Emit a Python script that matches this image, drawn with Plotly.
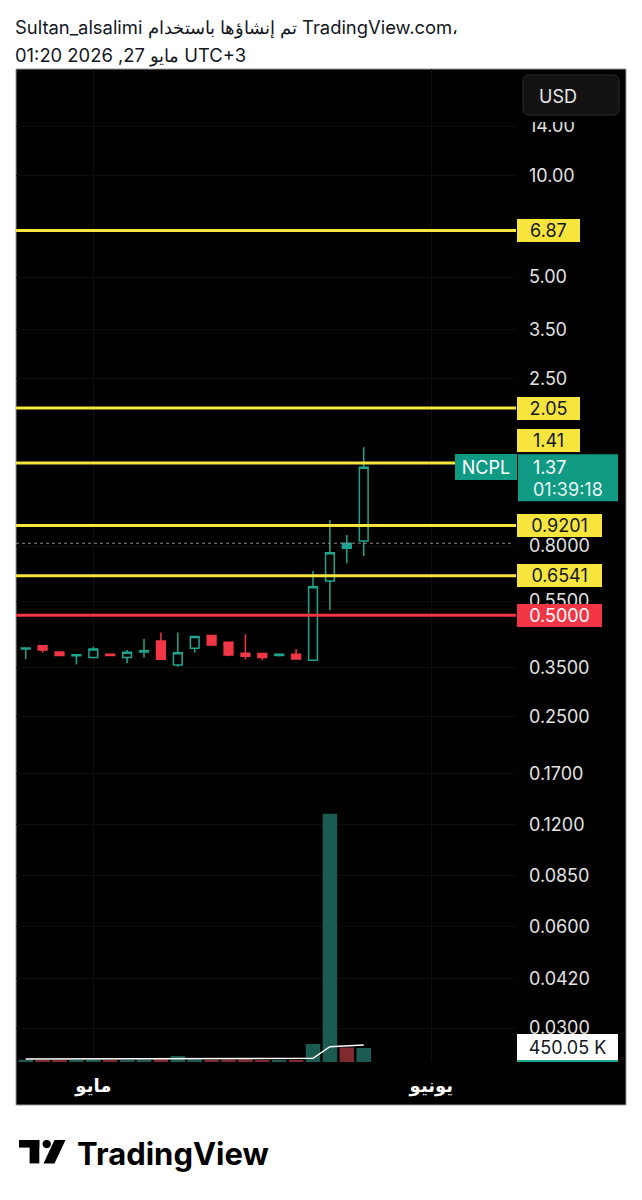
import math
import numpy as np
import plotly.graph_objects as go

# ---------------- data ----------------
dates = ["2026-04-27", "2026-04-28", "2026-04-29", "2026-04-30", "2026-05-01",
         "2026-05-04", "2026-05-05", "2026-05-06", "2026-05-07", "2026-05-08",
         "2026-05-11", "2026-05-12", "2026-05-13", "2026-05-14", "2026-05-15",
         "2026-05-18", "2026-05-19", "2026-05-20", "2026-05-21", "2026-05-22",
         "2026-05-26"]
market_holidays = ["2026-05-25"]
opens = [0.397, 0.406, 0.389, 0.379, 0.375, 0.383, 0.375, 0.389, 0.419, 0.356, 0.399,
         0.435, 0.416, 0.386, 0.385, 0.380, 0.383, 0.368, 0.631, 0.816, 0.829]
highs = [0.400, 0.408, 0.389, 0.383, 0.403, 0.385, 0.394, 0.425, 0.444, 0.444, 0.432,
         0.437, 0.418, 0.439, 0.386, 0.385, 0.397, 0.675, 0.956, 0.863, 1.569]
lows = [0.370, 0.387, 0.380, 0.357, 0.375, 0.378, 0.360, 0.375, 0.370, 0.352, 0.387,
        0.405, 0.378, 0.370, 0.368, 0.377, 0.371, 0.368, 0.518, 0.712, 0.748]
closes = [0.400, 0.394, 0.380, 0.382, 0.397, 0.380, 0.388, 0.392, 0.370, 0.387, 0.432,
          0.408, 0.381, 0.378, 0.375, 0.383, 0.371, 0.607, 0.765, 0.788, 1.370]
volumes_k = [70, 60, 55, 65, 80, 50, 60, 75, 95, 190, 85, 70, 80, 90, 60, 45, 65,
             580, 7970, 465, 450.05]
volume_ma_k = [98, 98, 97, 97, 98, 97, 97, 98, 98, 100, 100, 99, 99, 99, 98, 97, 97,
               120, 491, 514, 546]

yellow_levels = [6.87, 2.05, 1.41, 0.9201, 0.6541]
yellow_texts = ["6.87", "2.05", "1.41", "0.9201", "0.6541"]
red_levels = [0.5]
red_texts = ["0.5000"]
prev_close_level = 0.816

price_ticks = [14, 10, 5, 3.5, 2.5, 0.8, 0.55, 0.35, 0.25, 0.17, 0.12, 0.085, 0.06, 0.042, 0.03]
price_tick_text = ["14.00", "10.00", "5.00", "3.50", "2.50", "0.8000", "0.5500", "0.3500",
                   "0.2500", "0.1700", "0.1200", "0.0850", "0.0600", "0.0420", "0.0300"]
month_starts = ["2026-05-01", "2026-06-01"]
month_text = ["مايو", "يونيو"]

symbol = "NCPL"
last_price_text = "1.37"
countdown_text = "01:39:18"
last_volume_text = "450.05 K"
currency = "USD"
header_line1 = "Sultan_alsalimi تم إنشاؤها باستخدام TradingView.com،"
header_line2 = "01:20 2026 ,27 مايو UTC+3"
brand = "TradingView"

# ---------------- geometry / style ----------------
W, H = 642, 1200
PL, PR, PT, PB = 16, 516, 69, 1062
Y_LO, Y_HI = -1.62308, 1.31479
X_RANGE = [-0.574, 29.01]
VOL_MAX = 31875

GREEN = "#1fa58e"
RED = "#f23645"
YELLOW = "#f7e43c"
TEAL_BOX = "#0f9a83"
VOL_GREEN = "#1c5b51"
VOL_RED = "#7e2a2e"
FONT = "Inter"


def px_x(px):
    return (px - PL) / (PR - PL)


def px_y(py):
    return (PB - py) / (PB - PT)


def ypaper(v):
    return (math.log10(v) - Y_LO) / (Y_HI - Y_LO)


def py_of(v):
    return PB - ypaper(v) * (PB - PT)


x_pos = [int(np.busday_count(dates[0], d, holidays=market_holidays)) for d in dates]
month_pos = [int(np.busday_count(dates[0], m, holidays=market_holidays)) for m in month_starts]

prev = [opens[0]] + closes[:-1]
up_prev = [c >= p for c, p in zip(closes, prev)]
up_open = [c >= o for c, o in zip(closes, opens)]

fig = go.Figure()

# volume
vol_colors = [VOL_GREEN if u else VOL_RED for u in up_open]
fig.add_trace(go.Bar(x=x_pos, y=volumes_k, marker=dict(color=vol_colors, line=dict(width=0)),
                     width=0.86, yaxis="y2", hoverinfo="skip"))
fig.add_trace(go.Scatter(x=x_pos, y=volume_ma_k, mode="lines", yaxis="y2",
                         line=dict(color="#ffffff", width=1.5), hoverinfo="skip"))

groups = [
    (lambda i: up_open[i] and up_prev[i], GREEN, "#000000"),
    (lambda i: up_open[i] and not up_prev[i], RED, "#000000"),
    (lambda i: (not up_open[i]) and (not up_prev[i]), RED, RED),
    (lambda i: (not up_open[i]) and up_prev[i], GREEN, GREEN),
]
for cond, lc, fc in groups:
    idx = [i for i in range(len(dates)) if cond(i)]
    if not idx:
        continue
    style = dict(line=dict(color=lc, width=1.5), fillcolor=fc)
    fig.add_trace(go.Candlestick(
        x=[x_pos[i] for i in idx], open=[opens[i] for i in idx], high=[highs[i] for i in idx],
        low=[lows[i] for i in idx], close=[closes[i] for i in idx],
        increasing=style, decreasing=style, whiskerwidth=0, hoverinfo="skip"))

shapes = []
annotations = []

# chart black panel
shapes.append(dict(type="rect", xref="paper", yref="paper", x0=px_x(16), x1=px_x(626),
                   y0=px_y(1105), y1=px_y(69), fillcolor="#000000",
                   line=dict(color="#9a9a9a", width=1), layer="below"))

# previous close dotted line
shapes.append(dict(type="line", xref="paper", yref="paper", x0=0, x1=px_x(512),
                   y0=ypaper(prev_close_level), y1=ypaper(prev_close_level),
                   line=dict(color="#8a8a8a", width=1, dash="dot")))


def label_width(t):
    return sum(11.1 if ch.isdigit() else 5.6 for ch in t) + 24


for v, t in zip(yellow_levels, yellow_texts):
    shapes.append(dict(type="line", xref="paper", yref="paper", x0=0, x1=1,
                       y0=ypaper(v), y1=ypaper(v), line=dict(color=YELLOW, width=3)))
    annotations.append(dict(text=t, xref="paper", yref="paper", x=px_x(517), y=ypaper(v),
                            xanchor="left", yanchor="middle", showarrow=False,
                            width=label_width(t), height=23, bgcolor=YELLOW, borderwidth=0,
                            borderpad=0, yshift=22 if t == "1.41" else 0,
                            font=dict(family=FONT, size=18, color="#131722")))
for v, t in zip(red_levels, red_texts):
    shapes.append(dict(type="line", xref="paper", yref="paper", x0=0, x1=1,
                       y0=ypaper(v), y1=ypaper(v), line=dict(color=RED, width=3)))
    annotations.append(dict(text=t, xref="paper", yref="paper", x=px_x(517), y=ypaper(v),
                            xanchor="left", yanchor="middle", showarrow=False,
                            width=label_width(t), height=23, bgcolor=RED, borderwidth=0,
                            borderpad=0, font=dict(family=FONT, size=18, color="#ffffff")))

# last price labels
cy = py_of(closes[-1])
annotations.append(dict(text=symbol, xref="paper", yref="paper", x=px_x(455), y=px_y(cy),
                        xanchor="left", yanchor="middle", showarrow=False, width=62, height=26,
                        bgcolor=TEAL_BOX, borderwidth=0, borderpad=0,
                        font=dict(family=FONT, size=18, color="#ffffff")))
shapes.append(dict(type="rect", xref="paper", yref="paper", x0=px_x(518), x1=px_x(618),
                   y0=px_y(cy + 34), y1=px_y(cy - 13), fillcolor=TEAL_BOX, line=dict(width=0)))
annotations.append(dict(text=last_price_text, xref="paper", yref="paper", x=px_x(531),
                        y=px_y(cy), xanchor="left", yanchor="middle", showarrow=False,
                        font=dict(family=FONT, size=18, color="#ffffff")))
annotations.append(dict(text=countdown_text, xref="paper", yref="paper", x=px_x(531),
                        y=px_y(cy + 22), xanchor="left", yanchor="middle", showarrow=False,
                        font=dict(family=FONT, size=18, color="#e8f5f2")))

# volume label
vy = PB - volumes_k[-1] / VOL_MAX * (PB - PT)
annotations.append(dict(text=last_volume_text, xref="paper", yref="paper", x=px_x(517),
                        y=px_y(vy - 1), xanchor="left", yanchor="middle", showarrow=False,
                        width=101, height=26, bgcolor="#ffffff", borderwidth=0, borderpad=0,
                        font=dict(family=FONT, size=18, color="#131722")))
shapes.append(dict(type="rect", xref="paper", yref="paper", x0=px_x(517), x1=px_x(618),
                   y0=px_y(vy + 14), y1=px_y(vy + 11), fillcolor="#1fa58e", line=dict(width=0)))

# USD button area (black backing + rounded box)
shapes.append(dict(type="rect", xref="paper", yref="paper", x0=px_x(519), x1=px_x(623),
                   y0=px_y(122), y1=px_y(72), fillcolor="#000000", line=dict(width=0)))
bx0, bx1, by0, by1, r = px_x(523), px_x(619), px_y(75), px_y(115), 6
rx, ry = r / (PR - PL), r / (PB - PT)
usd_path = (f"M {bx0+rx},{by0} L {bx1-rx},{by0} Q {bx1},{by0} {bx1},{by0-ry} "
            f"L {bx1},{by1+ry} Q {bx1},{by1} {bx1-rx},{by1} L {bx0+rx},{by1} "
            f"Q {bx0},{by1} {bx0},{by1+ry} L {bx0},{by0-ry} Q {bx0},{by0} {bx0+rx},{by0} Z")
shapes.append(dict(type="path", xref="paper", yref="paper", path=usd_path,
                   fillcolor="#121212", line=dict(color="#2c2c2c", width=1)))
annotations.append(dict(text=currency, xref="paper", yref="paper", x=px_x(537), y=px_y(96),
                        xanchor="left", yanchor="middle", showarrow=False,
                        font=dict(family=FONT, size=18, color="#e6e6e6")))

# header
annotations.append(dict(text=header_line1, xref="paper", yref="paper", x=px_x(13), y=px_y(28),
                        xanchor="left", yanchor="middle", showarrow=False,
                        font=dict(family=FONT, size=18.4, color="#131722")))
annotations.append(dict(text=header_line2, xref="paper", yref="paper", x=px_x(13), y=px_y(55),
                        xanchor="left", yanchor="middle", showarrow=False,
                        font=dict(family=FONT, size=18.4, color="#131722")))

# TradingView logo
def rect_px(x0, x1, y0, y1, color):
    return dict(type="rect", xref="paper", yref="paper", x0=px_x(x0), x1=px_x(x1),
                y0=px_y(y1), y1=px_y(y0), fillcolor=color, line=dict(width=0))


shapes.append(rect_px(19, 39.3, 1140, 1147.6, "#000000"))
shapes.append(rect_px(29.6, 39.3, 1140, 1163.4, "#000000"))
shapes.append(dict(type="circle", xref="paper", yref="paper", x0=px_x(42.6), x1=px_x(50.8),
                   y0=px_y(1148.2), y1=px_y(1140), fillcolor="#000000", line=dict(width=0)))
slash = (f"M {px_x(54.5)},{px_y(1140)} L {px_x(65.5)},{px_y(1140)} "
         f"L {px_x(54.5)},{px_y(1163.4)} L {px_x(43.5)},{px_y(1163.4)} Z")
shapes.append(dict(type="path", xref="paper", yref="paper", path=slash,
                   fillcolor="#000000", line=dict(width=0)))
annotations.append(dict(text=brand, xref="paper", yref="paper", x=px_x(75), y=px_y(1153),
                        xanchor="left", yanchor="middle", showarrow=False,
                        font=dict(family=FONT, size=31, weight=700, color="#000000")))

fig.update_layout(
    width=W, height=H,
    margin=dict(l=PL, r=W - PR, t=PT, b=H - PB),
    paper_bgcolor="#ffffff", plot_bgcolor="#000000",
    showlegend=False, boxgap=0.26,
    xaxis=dict(range=X_RANGE, tickvals=month_pos, ticktext=month_text, showgrid=True,
               gridcolor="#0e0e0e", zeroline=False, showline=False, ticks="",
               ticklabelstandoff=11, rangeslider=dict(visible=False),
               tickfont=dict(family="DejaVu Sans", size=18, color="#ffffff", weight=700)),
    yaxis=dict(type="log", range=[Y_LO, Y_HI], side="right", tickvals=price_ticks,
               ticktext=price_tick_text, showgrid=True, gridcolor="#0e0e0e", zeroline=False,
               showline=False, ticks="", ticklabelstandoff=12,
               tickfont=dict(family=FONT, size=18, color="#e2e2e2")),
    yaxis2=dict(overlaying="y", range=[0, VOL_MAX], visible=False, showgrid=False),
    shapes=shapes, annotations=annotations,
)

fig.write_html("out.html")
